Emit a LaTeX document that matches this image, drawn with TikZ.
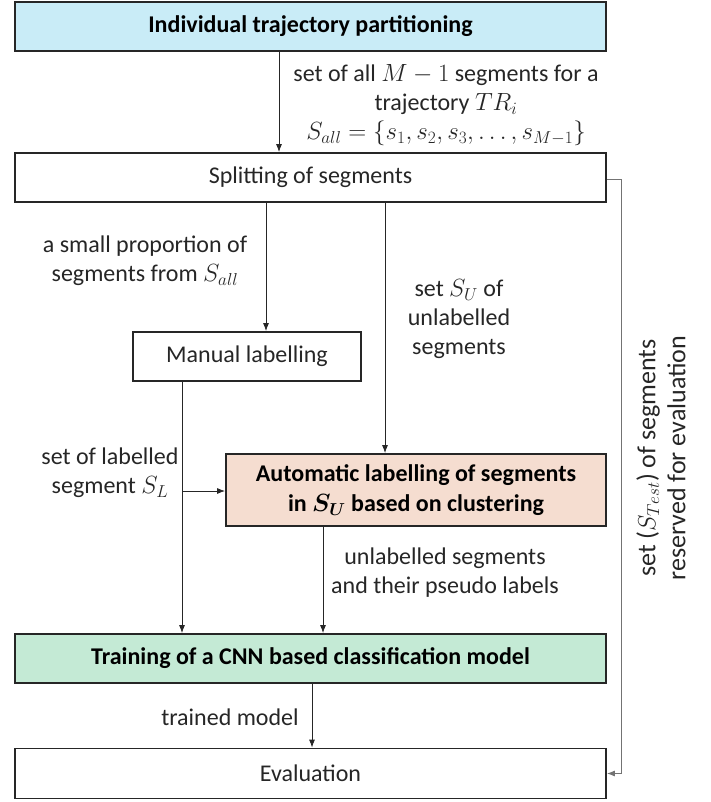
\documentclass[tikz,border=0pt]{standalone}
\usepackage{amsmath}
\usepackage{bm}
\usepackage{fontspec}
\setmainfont{Carlito}
\usetikzlibrary{arrows.meta}
\definecolor{topblue}{HTML}{C9ECF7}
\definecolor{peach}{HTML}{F5DDD0}
\definecolor{mint}{HTML}{C4EAD5}
\begin{document}
\begin{tikzpicture}[x=1pt,y=-1pt,
  font=\fontsize{24}{29}\selectfont,
  box/.style={draw=black!85, line width=1.8pt, inner sep=0pt, align=center},
  arr/.style={-{Latex[length=8pt,width=6pt]}, line width=0.8pt, draw=black!85},
  lbl/.style={align=center, inner sep=0pt, text=black!85}]
\useasboundingbox (0,0) rectangle (711,802);
\node[box, fill=topblue, line width=2.8pt, minimum width=591pt, minimum height=49pt, text=black] (part) at (310.5,26.5) {\bfseries Individual trajectory partitioning};
\node[box, minimum width=591pt, minimum height=49pt, text=black!85] (split) at (310.5,177.5) {Splitting of segments};
\node[box, minimum width=228pt, minimum height=49pt, text=black!85] (manual) at (247,356.5) {Manual labelling};
\node[box, fill=peach, minimum width=380pt, minimum height=72pt, text=black, align=center] (auto) at (416,490) {\bfseries Automatic labelling of segments\\[1pt] \bfseries in $\bm{S_U}$ based on clustering};
\node[box, fill=mint, minimum width=591pt, minimum height=49pt, text=black] (train) at (310.5,658.5) {\bfseries Training of a CNN based classification model};
\node[box, minimum width=591pt, minimum height=50pt, text=black!85] (eval) at (310.5,773.5) {Evaluation};
\coordinate (xa) at (279,0);
\coordinate (xb) at (266,0);
\coordinate (xc) at (385,0);
\coordinate (xd) at (182,0);
\coordinate (xe) at (323,0);
\coordinate (xf) at (312,0);
\coordinate (xr) at (621,0);
\coordinate (yl) at (0,491);
\draw[arr] (part.south -| xa) -- (split.north -| xa);
\draw[arr] (split.south -| xb) -- (manual.north -| xb);
\draw[arr] (split.south -| xc) -- (auto.north -| xc);
\draw[arr] (manual.south -| xd) -- (train.north -| xd);
\draw[arr] (yl -| xd) -- (yl -| auto.west);
\draw[arr] (auto.south -| xe) -- (train.north -| xe);
\draw[arr] (train.south -| xf) -- (eval.north -| xf);
\draw[arr, draw=black!55] (split.east |- 0,179) -- (xr |- 0,179) -- (eval.east -| xr) -- (eval.east);
\node[lbl] (l1) at (446,105) {set of all $M-1$ segments for a\\trajectory $TR_i$\\$S_{all}=\{s_1,s_2,s_3,\dots,s_{M-1}\}$};
\node[lbl] (l2) at (145,261) {a small proportion of\\segments from $S_{all}$};
\node[lbl] (l3) at (459,319) {set $S_U$ of\\unlabelled\\segments};
\node[lbl] (l4) at (110,473) {set of labelled\\segment $S_L$};
\node[lbl] (l5) at (445,573) {unlabelled segments\\and their pseudo labels};
\node[lbl] (l6) at (230,717) {trained model};
\node[lbl, rotate=90, font=\fontsize{26}{30}\selectfont] (l7) at (661,458) {set ($S_{Test}$) of segments\\reserved for evaluation};
\end{tikzpicture}
\end{document}
